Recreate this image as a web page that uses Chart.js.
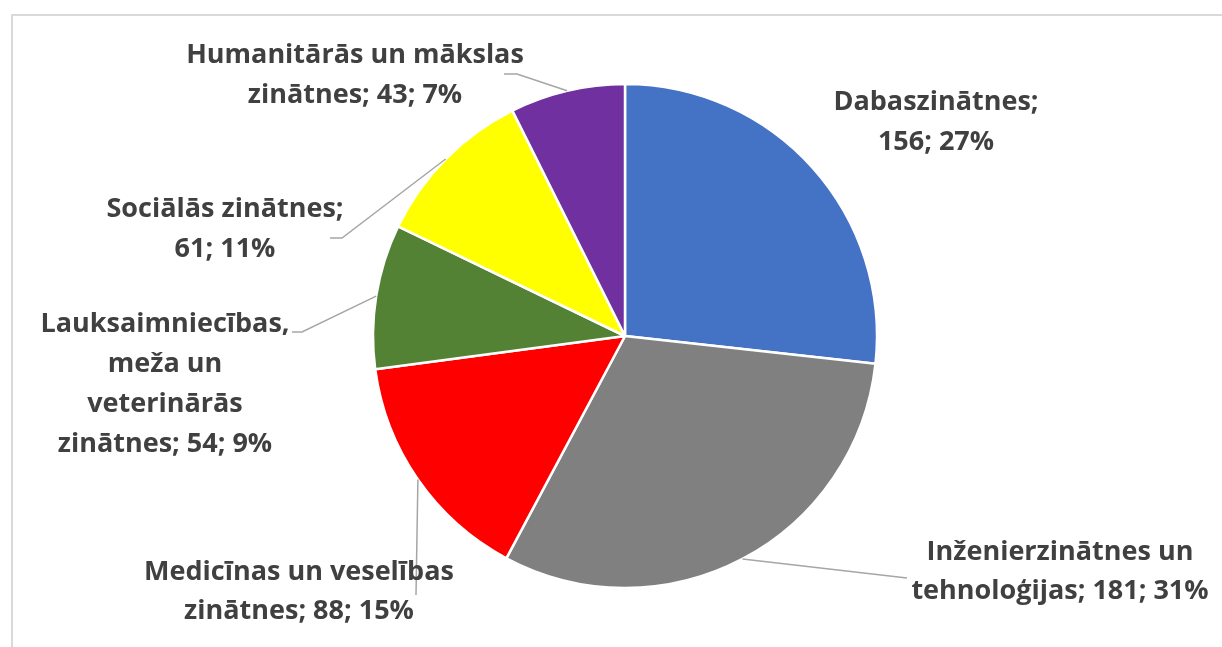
<!DOCTYPE html>
<html>
<head>
<meta charset="utf-8">
<script src="https://cdn.jsdelivr.net/npm/chart.js@4.4.1/dist/chart.umd.min.js"></script>
<style>
  html, body { margin: 0; padding: 0; background: #ffffff; }
  #wrap { position: relative; width: 1222px; height: 647px; }
</style>
</head>
<body>
<div id="wrap"><canvas id="c" width="1222" height="647"></canvas></div>
<script>
// ---- data ----
const categories = [
  "Dabaszinātnes",
  "Inženierzinātnes un tehnoloģijas",
  "Medicīnas un veselības zinātnes",
  "Lauksaimniecības, meža un veterinārās zinātnes",
  "Sociālās zinātnes",
  "Humanitārās un mākslas zinātnes"
];
const counts = [156, 181, 88, 54, 61, 43];
const percents = [27, 31, 15, 9, 11, 7];
const sliceColors = ["#4472C4", "#808080", "#FF0000", "#548235", "#FFFF00", "#7030A0"];
// words per label line
const lineWordCounts = [[1, 2], [2, 3], [3, 3], [1, 2, 1, 3], [2, 2], [3, 3]];

// ---- label layout (positions only) ----
const labelLayout = [
  { x: 936, baselines: [110, 150], path: null },
  { x: 1060, baselines: [560, 599], path: [[907, 578]] },
  { x: 299, baselines: [580, 619], path: [[416, 595]] },
  { x: 165, baselines: [332, 372, 412, 452], path: [[302, 332], [292, 332]] },
  { x: 225, baselines: [217, 257], path: [[342, 238], [330, 238]] },
  { x: 355, baselines: [63, 103], path: [[517, 74], [504, 74]] }
];

function buildLines(i) {
  const full = categories[i] + "; " + counts[i] + "; " + percents[i] + "%";
  const words = full.split(" ");
  const out = [];
  let k = 0;
  for (const n of lineWordCounts[i]) {
    out.push(words.slice(k, k + n).join(" "));
    k += n;
  }
  return out;
}

const labelPlugin = {
  id: "pieLabels",
  beforeDraw(chart) {
    const ctx = chart.ctx;
    ctx.save();
    ctx.strokeStyle = "#d9d9d9";
    ctx.lineWidth = 2;
    ctx.beginPath();
    ctx.moveTo(12, 647);
    ctx.lineTo(12, 15);
    ctx.lineTo(1222, 15);
    ctx.stroke();
    ctx.restore();
  },
  afterDatasetsDraw(chart) {
    const ctx = chart.ctx;
    const meta = chart.getDatasetMeta(0);
    ctx.save();
    meta.data.forEach((arc, i) => {
      const lay = labelLayout[i];
      if (lay.path) {
        const mid = (arc.startAngle + arc.endAngle) / 2;
        const sx = arc.x + Math.cos(mid) * arc.outerRadius;
        const sy = arc.y + Math.sin(mid) * arc.outerRadius;
        ctx.strokeStyle = "#a6a6a6";
        ctx.lineWidth = 1.5;
        ctx.beginPath();
        ctx.moveTo(sx, sy);
        lay.path.forEach(p => ctx.lineTo(p[0], p[1]));
        ctx.stroke();
      }
      const lines = buildLines(i);
      ctx.fillStyle = "#404040";
      ctx.font = "bold 27px 'Open Sans', Lato, sans-serif";
      ctx.textAlign = "center";
      ctx.textBaseline = "alphabetic";
      lines.forEach((t, j) => ctx.fillText(t, lay.x, lay.baselines[j]));
    });
    ctx.restore();
  }
};

new Chart(document.getElementById("c"), {
  type: "pie",
  data: {
    labels: categories,
    datasets: [{
      data: counts,
      backgroundColor: sliceColors,
      borderColor: "#ffffff",
      borderWidth: 2.5
    }]
  },
  options: {
    responsive: false,
    animation: false,
    radius: 252,
    layout: { padding: { left: 373, right: 345, top: 84, bottom: 59 } },
    plugins: {
      legend: { display: false },
      tooltip: { enabled: false },
      title: { display: false }
    }
  },
  plugins: [labelPlugin]
});
</script>
</body>
</html>
